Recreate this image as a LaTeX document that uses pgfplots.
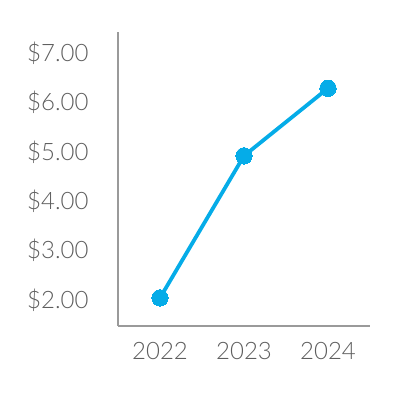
\documentclass[border=0pt]{standalone}
\usepackage{fontspec}
\setmainfont{Lato Light}
\usepackage{pgfplots}
\pgfplotsset{compat=1.18}
\definecolor{lineblue}{HTML}{05ACE8}
\definecolor{txtgray}{HTML}{5E5E5E}
\definecolor{axgray}{HTML}{9A9A9A}
\begin{document}
\begin{tikzpicture}
\useasboundingbox (0,0) rectangle (400bp,400bp);
\begin{axis}[
  at={(118bp,74bp)}, anchor=south west,
  scale only axis, width=252bp, height=294bp,
  xmin=-0.5, xmax=2.5, ymin=1.47, ymax=7.43,
  axis x line*=bottom, axis y line*=left,
  axis line style={axgray, line width=1.6pt, -},
  xtick={0,1,2}, xticklabels={2022,2023,2024},
  ytick={2,3,4,5,6,7},
  yticklabels={\$2.00,\$3.00,\$4.00,\$5.00,\$6.00,\$7.00},
  major tick length=0pt,
  tick label style={font=\fontsize{24bp}{28bp}\selectfont, text=txtgray},
  yticklabel style={xshift=-26bp},
  xticklabel style={yshift=-13bp},
  clip=false,
]
\addplot[lineblue, line width=3.8bp, mark=*, mark size=8.2bp, mark options={fill=lineblue, draw=lineblue, line width=0pt}]
  coordinates {(0,2.04) (1,4.92) (2,6.29)};
\end{axis}
\end{tikzpicture}
\end{document}
